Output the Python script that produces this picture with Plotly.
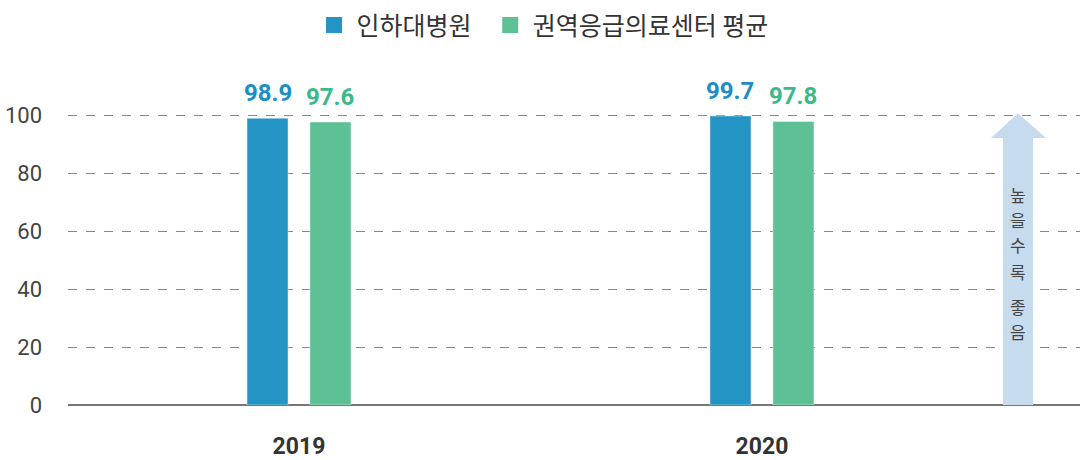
import plotly.graph_objects as go

years = ["2019", "2020"]
inha = [98.9, 99.7]
regional = [97.6, 97.8]
series_names = ["인하대병원", "권역응급의료센터 평균"]
y_ticks = [0, 20, 40, 60, 80, 100]
arrow_chars = ["높", "을", "수", "록", "좋", "음"]
arrow_char_px = [194, 219, 245, 271, 306, 331]  # vertical pixel centres

blue = "#2394c3"
green = "#5ec196"
blue_txt = "#1a8ec5"
green_txt = "#3cb98a"

W, H = 1084, 460
ML, MR, MT, MB = 68, 4, 60, 55
plot_h = H - MT - MB

fig = go.Figure()
bw = 0.0886
gap = 0.068
fig.add_trace(go.Bar(
    x=years, y=inha, name=series_names[0], marker_color=blue,
    width=bw, offset=-gap - bw / 2, showlegend=False, hoverinfo="skip",
))
fig.add_trace(go.Bar(
    x=years, y=regional, name=series_names[1], marker_color=green,
    width=bw, offset=gap - bw / 2, showlegend=False, hoverinfo="skip",
))
# legend entries with big square markers
pads = ["\u00a0\u00a0", ""]
for nm, col, pad in zip(series_names, [blue, green], pads):
    fig.add_trace(go.Scatter(
        x=[None], y=[None], mode="markers", name=nm + pad,
        marker=dict(symbol="square", size=18, color=col),
    ))

# value labels
for i, (a, b) in enumerate(zip(inha, regional)):
    fig.add_annotation(x=i - gap, y=a, text=f"<b>{a:.1f}</b>", showarrow=False,
                       yanchor="bottom", yshift=9,
                       font=dict(family="Roboto", size=24, color=blue_txt))
    fig.add_annotation(x=i + gap, y=b, text=f"<b>{b:.1f}</b>", showarrow=False,
                       yanchor="bottom", yshift=9,
                       font=dict(family="Roboto", size=24, color=green_txt))

# arrow (paper coordinates)
x0, x1 = 0.9239, 0.9536
hx0, hx1 = 0.912, 0.9664
xc = 0.9387
ybase, yhead, ytip = 0.0, 0.774, 0.846
path = (f"M {x0},{ybase} L {x0},{yhead} L {hx0},{yhead} L {xc},{ytip} "
        f"L {hx1},{yhead} L {x1},{yhead} L {x1},{ybase} Z")
fig.add_shape(type="path", path=path, xref="paper", yref="paper",
              fillcolor="#c7dbee", line=dict(width=0), layer="above")
for ch, py in zip(arrow_chars, arrow_char_px):
    fig.add_annotation(text=ch, xref="paper", yref="paper",
                       x=xc, y=(H - MB - py) / plot_h, showarrow=False,
                       xanchor="center", yanchor="middle",
                       font=dict(family="Noto Sans CJK KR", size=17, color="#444"))

fig.update_layout(
    width=W, height=H,
    margin=dict(l=ML, r=MR, t=MT, b=MB),
    plot_bgcolor="white", paper_bgcolor="white",
    barmode="overlay",
    showlegend=True,
    legend=dict(orientation="h", xref="container", yref="container",
                x=0.2874, xanchor="left", y=0.995, yanchor="top",
                font=dict(family="Noto Sans CJK KR", size=25, color="#333"),
                itemwidth=35, traceorder="normal"),
    font=dict(family="Noto Sans CJK KR"),
)
fig.update_xaxes(
    type="category", range=[-0.499, 1.687], automargin=False,
    showgrid=False, showline=False, zeroline=False,
    ticks="outside", ticklen=20, tickcolor="rgba(0,0,0,0)",
    tickfont=dict(family="Roboto", size=23, color="#333", weight="bold"),
)
fig.update_yaxes(
    range=[0, 119], tickvals=y_ticks, automargin=False,
    showgrid=True, gridcolor="#888", griddash="dash", gridwidth=1,
    zeroline=True, zerolinecolor="#777", zerolinewidth=1.5,
    showline=False, ticks="", ticklabelstandoff=25,
    tickfont=dict(family="Roboto", size=22, color="#444"),
)

fig.write_html("out.html", post_script="document.body.style.margin='0';",
               config={"displayModeBar": False})
